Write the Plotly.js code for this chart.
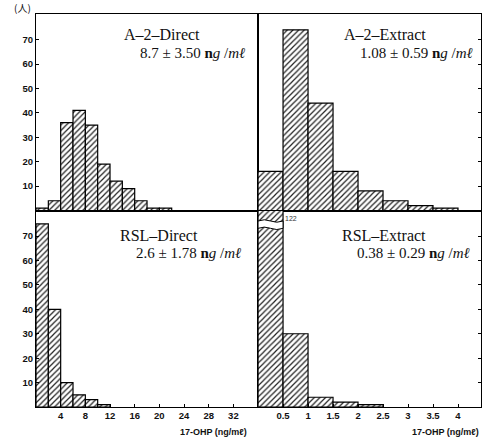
<!DOCTYPE html>
<html>
<head>
<meta charset="utf-8">
<script src="https://cdn.plot.ly/plotly-3.0.1.min.js"></script>
<style>html,body{margin:0;padding:0;background:#fff;}#chart{width:484px;height:443px;}</style>
</head>
<body>
<div id="chart"></div>
<script>
// ---- data ----
const a2DirectBinStart = [0, 2, 4, 6, 8, 10, 12, 14, 16, 18, 20];
const a2DirectCount    = [1, 4, 36, 41, 35, 19, 12, 9, 4, 1, 1];
const a2ExtractBinStart = [0, 0.5, 1, 1.5, 2, 2.5, 3, 3.5];
const a2ExtractCount    = [16, 74, 44, 16, 8, 4, 2, 1];
const rslDirectBinStart = [0, 2, 4, 6, 8, 10];
const rslDirectCount    = [75, 40, 10, 5, 3, 1];
const rslExtractBinStart = [0, 0.5, 1, 1.5, 2];
const rslExtractCount    = [122, 30, 4, 2, 1];
const directBinWidth = 2;
const extractBinWidth = 0.5;
const directTicks = [4, 8, 12, 16, 20, 24, 28, 32];
const extractTicks = [0.5, 1, 1.5, 2, 2.5, 3, 3.5, 4];
const countTicks = [10, 20, 30, 40, 50, 60, 70];
const panelTitles = ["A–2–Direct", "A–2–Extract", "RSL–Direct", "RSL–Extract"];
const panelStats = ["8.7 ± 3.50", "1.08 ± 0.59", "2.6 ± 1.78", "0.38 ± 0.29"];
const unitText = " <b>n</b><i>g</i> /<i>mℓ</i>";
const xTitle = "17-OHP (ng/mℓ)";
const yUnit = "(人)";

const hatch = {shape: '/', fgcolor: '#222', bgcolor: '#fff', size: 4, solidity: 0.3};
function barTrace(xs, ys, w, xa, ya) {
  return {type: 'bar', x: xs, y: ys, width: w, offset: 0, xaxis: xa, yaxis: ya,
    marker: {color: '#fff', pattern: hatch, line: {color: '#000', width: 1.2}},
    hoverinfo: 'x+y', showlegend: false, cliponaxis: true};
}
const data = [
  barTrace(a2DirectBinStart, a2DirectCount, directBinWidth, 'x', 'y'),
  barTrace(a2ExtractBinStart, a2ExtractCount, extractBinWidth, 'x2', 'y2'),
  barTrace(rslDirectBinStart, rslDirectCount, directBinWidth, 'x3', 'y3'),
  barTrace(rslExtractBinStart, rslExtractCount, extractBinWidth, 'x4', 'y4')
];

const tickFont = {family: 'Liberation Sans, Arial, sans-serif', size: 9.5, color: '#111', weight: 'bold'};
const yRange = [0, 80.5];
const directRange = [0, 36];
const extractRange = [0, 4.46];
const split = 0.499;
function xAx(domain, range, tickvals, labels) {
  return {domain: domain, range: range, showline: true, mirror: true, linecolor: '#000', linewidth: 1,
    showgrid: false, zeroline: false, tickvals: tickvals, ticktext: tickvals.map(String),
    showticklabels: labels, ticks: labels ? 'inside' : '', ticklen: 3, tickcolor: '#000',
    tickfont: tickFont, fixedrange: true};
}
function yAx(domain, anchor, side, labels) {
  return {domain: domain, range: yRange, anchor: anchor, side: side, showline: true, mirror: true,
    linecolor: '#000', linewidth: 1, showgrid: false, zeroline: false, tickvals: countTicks,
    showticklabels: labels, ticks: 'inside', ticklen: 3, tickcolor: '#000', tickfont: tickFont, fixedrange: true};
}

// paper-coordinate helpers (plot area 36..481 x, 14..407 y)
const L = 36, R = 481, T = 14, B = 407;
const px = v => (v - L) / (R - L);
const py = v => (B - v) / (B - T);
const titleFont = {family: 'Liberation Serif, Times New Roman, serif', size: 16, color: '#111'};
const statFont = {family: 'Liberation Serif, Times New Roman, serif', size: 15, color: '#111'};
const titlePos = [[122, 35], [342, 35], [118, 235], [340, 235]];
const statPos = [[247, 53], [475, 53], [243, 253], [472, 253]];
const annotations = [];
panelTitles.forEach((t, i) => {
  annotations.push({xref: 'paper', yref: 'paper', x: px(titlePos[i][0]), y: py(titlePos[i][1]),
    xanchor: 'left', yanchor: 'middle', text: t, showarrow: false, font: titleFont});
  annotations.push({xref: 'paper', yref: 'paper', x: px(statPos[i][0]), y: py(statPos[i][1]),
    xanchor: 'right', yanchor: 'middle', text: panelStats[i] + unitText, showarrow: false, font: statFont});
});
const smallSans = {family: 'Liberation Sans, Arial, sans-serif', size: 9, color: '#111', weight: 'bold'};
annotations.push({xref: 'paper', yref: 'paper', x: px(249), y: py(432), xanchor: 'right', yanchor: 'middle',
  text: xTitle, showarrow: false, font: smallSans});
annotations.push({xref: 'paper', yref: 'paper', x: px(481), y: py(432), xanchor: 'right', yanchor: 'middle',
  text: xTitle, showarrow: false, font: smallSans});
annotations.push({xref: 'paper', yref: 'paper', x: px(22), y: py(8), xanchor: 'center', yanchor: 'middle',
  text: yUnit, showarrow: false, font: {family: 'Noto Sans CJK JP, sans-serif', size: 10, color: '#111'}});
// label for the broken (off-scale) bar
annotations.push({xref: 'x4', yref: 'y4 domain', x: rslExtractBinStart[0] + extractBinWidth, y: 0.985,
  xanchor: 'left', yanchor: 'top', text: String(rslExtractCount[0]), showarrow: false,
  font: {family: 'Liberation Sans, Arial, sans-serif', size: 7, color: '#333'}});

// break mark on the off-scale bar
const bx0 = rslExtractBinStart[0], bx1 = bx0 + extractBinWidth, bw = extractBinWidth;
const ylo = 73.2, yhi = 76.2, amp = 1.0;
const breakPath = `M ${bx0},${ylo} Q ${bx0 + bw / 4},${ylo + amp} ${bx0 + bw / 2},${ylo} T ${bx1},${ylo} ` +
  `L ${bx1},${yhi} Q ${bx1 - bw / 4},${yhi - amp} ${bx1 - bw / 2},${yhi} T ${bx0},${yhi} Z`;
const shapes = [{type: 'path', xref: 'x4', yref: 'y4', path: breakPath, fillcolor: '#fff',
  line: {color: '#000', width: 1}, layer: 'above'}];

const layout = {
  width: 484, height: 443,
  margin: {l: L, r: 484 - R, t: T, b: 443 - B, pad: 0},
  paper_bgcolor: '#fff', plot_bgcolor: 'rgba(0,0,0,0)',
  showlegend: false,
  xaxis: Object.assign(xAx([0, split], directRange, directTicks, false), {anchor: 'y'}),
  yaxis: yAx([0.5, 1], 'x', 'left', true),
  xaxis2: Object.assign(xAx([split, 1], extractRange, extractTicks, false), {anchor: 'y2'}),
  yaxis2: yAx([0.5, 1], 'x2', 'right', false),
  xaxis3: Object.assign(xAx([0, split], directRange, directTicks, true), {anchor: 'y3'}),
  yaxis3: yAx([0, 0.5], 'x3', 'left', true),
  xaxis4: Object.assign(xAx([split, 1], extractRange, extractTicks, true), {anchor: 'y4'}),
  yaxis4: yAx([0, 0.5], 'x4', 'right', false),
  annotations: annotations,
  shapes: shapes
};
Plotly.newPlot('chart', data, layout, {displayModeBar: false, staticPlot: true});
</script>
</body>
</html>
